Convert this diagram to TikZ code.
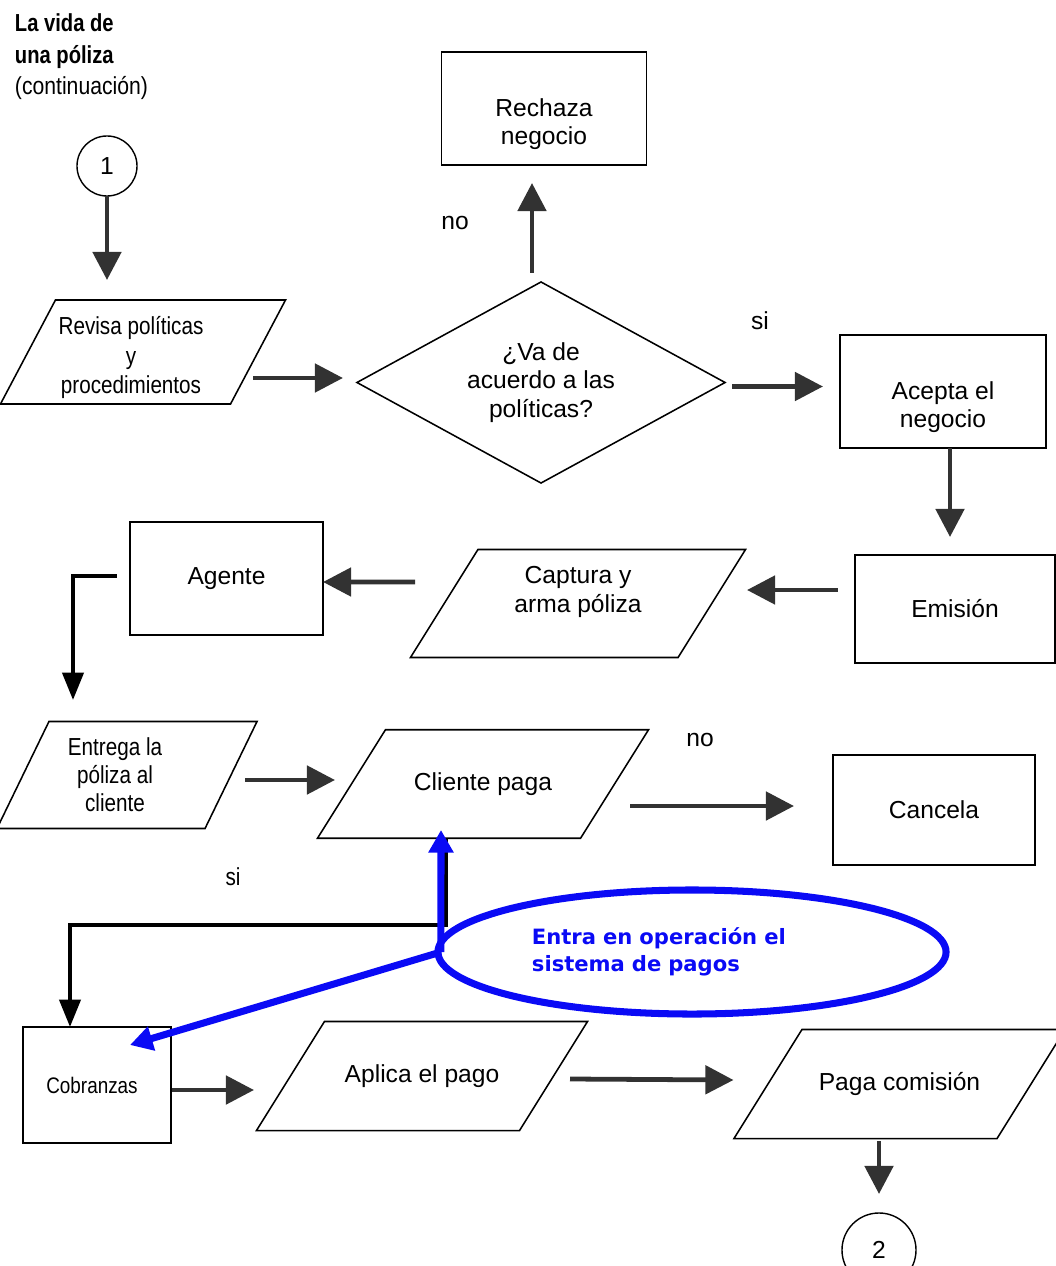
\documentclass[tikz,border=0pt]{standalone}
\usepackage{fontspec}
\setmainfont{Liberation Sans}
\newfontfamily\narrowfont[FakeStretch=0.84]{Liberation Sans}
\newfontfamily\titlefont[FakeStretch=0.86]{Liberation Sans}
\newfontfamily\titleboldfont[FakeStretch=0.82]{Liberation Sans}
\newfontfamily\bluefont{DejaVu Sans}
\usepackage{xcolor}
\usetikzlibrary{calc}
\usetikzlibrary{arrows.meta}
\usetikzlibrary{shapes.geometric}
\definecolor{arrgray}{RGB}{50,50,50}
\definecolor{noteblue}{RGB}{10,10,245}
\tikzset{
  every node/.style = {font = \fontsize{17.5}{20.5}\selectfont, outer sep=0pt}
}
\tikzset{
    >={Triangle[length=20pt,width=20pt]}
}
\tikzset{
  box/.style = {draw, rectangle, line width=1.1pt, align=center},
  io/.style = {rectangle, align=center},
  conn/.style = {draw, circle, line width=1pt},
  arr/.style = {->, draw=arrgray, line width=3.4pt},
  arrthin/.style = {-{Triangle[length=19.5pt,width=15pt]}, draw=black, line width=2.8pt},
  barr/.style = {-{Triangle[length=16pt,width=17pt]}, draw=noteblue, line width=5pt}
}
% slanted outline round an io node: #1 node, #2 half of the slant, #3 shift of the outline
\newcommand{\drawio}[3]{%
  \draw[line width=1.1pt] ($(#1.south west)+(#3-#2,0)$) -- ($(#1.south east)+(#3-#2,0)$)
    -- ($(#1.north east)+(#3+#2,0)$) -- ($(#1.north west)+(#3+#2,0)$) -- cycle;}

\begin{document}
\begin{tikzpicture}[x=0.025cm, y=-0.025cm]
\useasboundingbox (0,0) rectangle (1056,1266);

% Title
\node[anchor=north west, align=left, inner sep=0pt,
      font=\titlefont\fontsize{17.5}{22.3}\selectfont] (title) at (15,14)
  {{\titleboldfont\bfseries La vida de}\\{\titleboldfont\bfseries una póliza}\\(continuación)};

% The shapes
\node[conn, minimum size=1.5cm] (c1) at (107,166) {1};
\node[io, minimum width=5.75cm, minimum height=2.6cm, font=\narrowfont\fontsize{17.5}{21}\selectfont] (revisa) at (131,352)
  {\rule{0pt}{21pt}Revisa políticas\\y\\procedimientos};
\node[draw, diamond, aspect=1.83, line width=1.1pt, align=center, minimum width=9.2cm, minimum height=5.025cm, inner sep=0pt] (dia) at (541,382.5)
  {¿Va de\\acuerdo a las\\políticas?};
\node[box, minimum width=5.125cm, minimum height=2.825cm] (rech) at (544,108.5)
  {\rule{0pt}{35pt}Rechaza\\negocio};
\node[box, minimum width=5.15cm, minimum height=2.825cm] (acepta) at (943,391.5)
  {\rule{0pt}{35pt}Acepta el\\negocio};
\node[box, minimum width=5cm, minimum height=2.7cm] (emision) at (955,609) {Emisión};
\node[io, minimum width=6.6875cm, minimum height=2.7cm] (captura) at (578,603.5)
  {Captura y\\arma póliza\rule[-20pt]{0pt}{0pt}};
\node[box, minimum width=4.825cm, minimum height=2.825cm] (agente) at (226.5,578.5) {Agente};
\node[io, minimum width=5.2cm, minimum height=2.675cm, font=\narrowfont\fontsize{17.5}{20}\selectfont] (entrega) at (115,775)
  {Entrega la\\póliza al\\cliente};
\node[io, minimum width=6.575cm, minimum height=2.7125cm] (cliente) at (483,784) {Cliente paga};
\node[box, minimum width=5.05cm, minimum height=2.75cm] (cancela) at (934,810) {Cancela};
\node[box, minimum width=3.7cm, minimum height=2.9cm, font=\narrowfont\fontsize{16}{20}\selectfont] (cobr) at (97,1085) {Cobranzas\hspace*{0.25cm}};
\node[io, minimum width=6.575cm, minimum height=2.725cm] (aplica) at (422,1076) {Aplica el pago};
\node[io, minimum width=6.575cm, minimum height=2.725cm] (paga) at (899.5,1084) {Paga comisión};
\node[conn, minimum size=1.85cm] (c2) at (879,1250) {2};

% Slanted outlines
\drawio{revisa}{27.5}{12}
\drawio{captura}{33.75}{0}
\drawio{entrega}{26}{12}
\drawio{cliente}{34}{0}
\drawio{aplica}{34}{0}
\drawio{paga}{34}{0}

% Branch labels
\node (no1) at (455,223) {no};
\node (si1) at (760,321) {si};
\node (no2) at (700,740) {no};
\node[font=\narrowfont\fontsize{17.5}{20}\selectfont] (si2) at (233,877) {si};

% Arrows
\draw[arr] (c1.south) -- ($(revisa)+(-24,-72)$);
\draw[arr] ($(revisa)+(122,26)$) -- ($(dia.west)+(-14,-4.5)$);
\draw[arr] ($(dia.north)+(-9,-9)$) -- ($(rech.south)+(-12,18)$);
\draw[arr] ($(dia.east)+(7,4)$) -- ($(acepta.west)+(-17,-5)$);
\draw[arr] ($(acepta.south)+(7,0)$) -- ($(emision.north)+(-5,-18)$);
\draw[arr] ($(emision.west)+(-17,-19)$) -- ($(captura)+(169,-13.5)$);
\draw[arr] ($(captura)+(-163,-21.5)$) -- ($(agente.east)+(0,3.5)$);
\draw[arrthin] ($(agente.west)+(-13,-2.5)$) -| ($(entrega)+(-42,-75)$);
\draw[arr] ($(entrega)+(130,5)$) -- ($(cliente)+(-148,-4)$);
\draw[arr] ($(cliente)+(147,22)$) -- ($(cancela.west)+(-39,-4)$);
\draw[arrthin] ($(cliente)+(-37,54)$) |- ($(cobr.north)+(-27,-102)$) -- ($(cobr.north)+(-27,0)$);
\draw[arr] ($(cobr.east)+(1,5)$) -- ($(aplica)+(-168,14)$);
\draw[arr] ($(aplica)+(148,3)$) -- ($(paga)+(-166,-4)$);
\draw[arr] ($(paga)+(-20.5,57)$) -- ($(c2.north)+(0,-19)$);

% Note in blue
\node[draw=noteblue, ellipse, line width=5pt, minimum width=12.7cm, minimum height=3.1cm,
      text width=8cm, align=left, text=noteblue,
      font=\bluefont\bfseries\fontsize{15}{19}\selectfont] (ell) at (692,952)
  {Entra en operación el\\sistema de pagos};
\draw[barr] ($(ell.west)+(3,0)$) -- ($(cliente)+(-42,46)$);
\draw[barr] ($(ell.west)+(3,0)$) -- ($(cobr.north east)+(-41,18)$);
\end{tikzpicture}
\end{document}
